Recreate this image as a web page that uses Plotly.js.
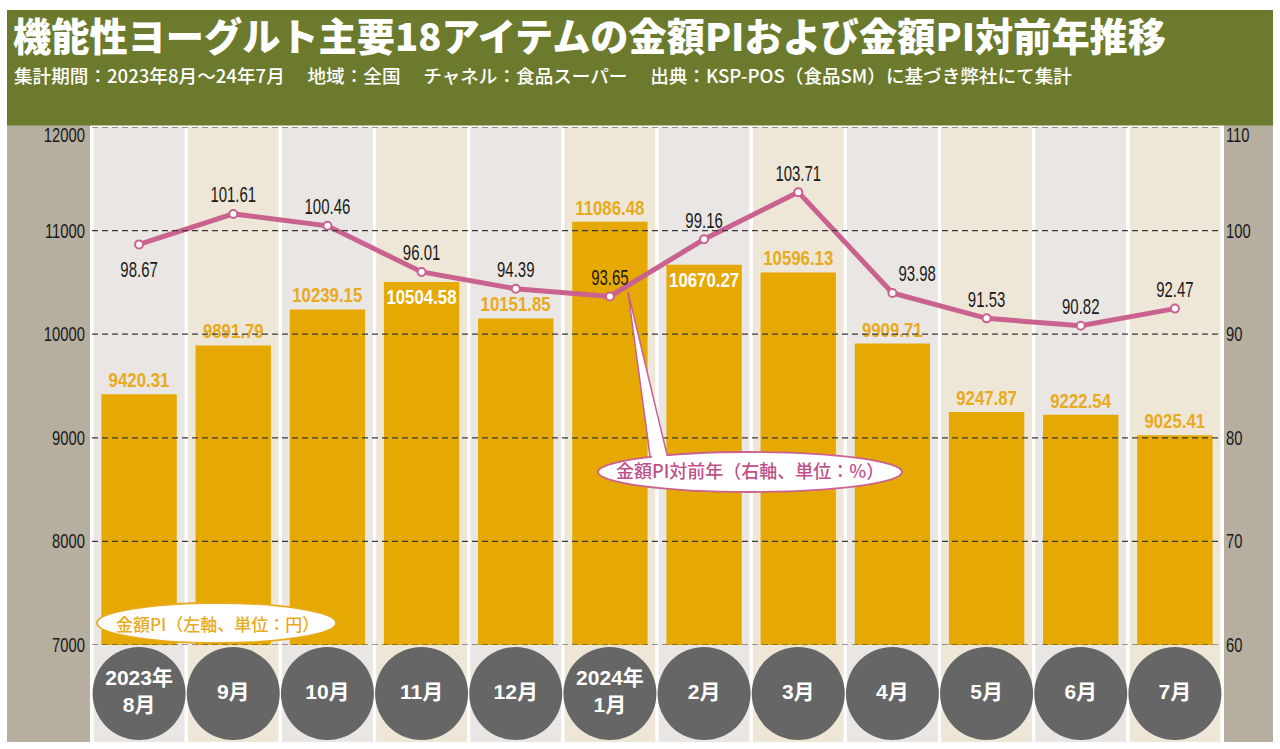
<!DOCTYPE html>
<html>
<head>
<meta charset="utf-8">
<script src="https://cdn.plot.ly/plotly-3.0.1.min.js"></script>
<style>
  html, body { margin: 0; padding: 0; background: #ffffff; }
  #chart { width: 1280px; height: 749px; }
</style>
</head>
<body>
<div id="chart"></div>
<script>
// ---- data ----
const months = ["2023年<br>8月", "9月", "10月", "11月", "12月", "2024年<br>1月", "2月", "3月", "4月", "5月", "6月", "7月"];
const piValues = [9420.31, 9891.79, 10239.15, 10504.58, 10151.85, 11086.48, 10670.27, 10596.13, 9909.71, 9247.87, 9222.54, 9025.41];
const yoyValues = [98.67, 101.61, 100.46, 96.01, 94.39, 93.65, 99.16, 103.71, 93.98, 91.53, 90.82, 92.47];
const leftTicks = [7000, 8000, 9000, 10000, 11000, 12000];
const rightTicks = [60, 70, 80, 90, 100, 110];
const titleText = "機能性ヨーグルト主要18アイテムの金額PIおよび金額PI対前年推移";
const subtitleText = "集計期間：2023年8月～24年7月　 地域：全国　 チャネル：食品スーパー　 出典：KSP-POS（食品SM）に基づき弊社にて集計";
const barLegendText = "金額PI（左軸、単位：円）";
const lineLegendText = "金額PI対前年（右軸、単位：%）";
const insideLabelIdx = [3, 6];
const belowLabelIdx = [0];

// ---- style ----
const OLIVE = "#6c7a2d", TAN = "#b6ae9f", COLGRAY = "#e9e6e3", COLBEIGE = "#eee7d7";
const BAR = "#e6a802", BARLBL = "#e8aa1e", PINK = "#c9628e", CIRCLE = "#666666";
const NUMFONT = "Liberation Sans, Arial, sans-serif";
const JPFONT = "Noto Sans CJK JP, sans-serif";

// pixel -> paper helpers (plot area: x 92..1222, y 127..742)
const L = 92, R = 58, T = 127, B = 7, W = 1280 - L - R, H = 749 - T - B;
const px = v => (v - L) / W;
const py = v => (749 - B - v) / H;
const mainBottom = py(645);

const shapes = [];
shapes.push({type: "rect", xref: "paper", yref: "paper", x0: px(7), x1: px(90), y0: 0, y1: py(125), fillcolor: TAN, line: {width: 0}, layer: "below"});
shapes.push({type: "rect", xref: "paper", yref: "paper", x0: px(1224), x1: px(1273), y0: 0, y1: py(125), fillcolor: TAN, line: {width: 0}, layer: "below"});
shapes.push({type: "rect", xref: "paper", yref: "paper", x0: px(7), x1: px(1273), y0: py(125.5), y1: py(10), fillcolor: OLIVE, line: {width: 0}, layer: "below"});
months.forEach((m, i) => {
  shapes.push({type: "rect", xref: "x", yref: "paper", x0: i - 0.5 + 0.018, x1: i + 0.5 - 0.018, y0: 0, y1: 1,
    fillcolor: i % 2 === 0 ? COLGRAY : COLBEIGE, line: {width: 0}, layer: "below"});
});
leftTicks.forEach(t => {
  shapes.push({type: "line", xref: "paper", yref: "y", x0: 0, x1: 1, y0: t, y1: t,
    line: {color: "#3a3a3a", width: 1.2, dash: "6px,4px"}, layer: "above"});
});
shapes.push({type: "path", xref: "paper", yref: "paper",
  path: `M ${px(628)} ${py(292)} L ${px(651)} ${py(463)} L ${px(669)} ${py(463)} Z`,
  fillcolor: "#ffffff", line: {color: PINK, width: 1.5}, layer: "above"});
shapes.push({type: "circle", xref: "paper", yref: "paper", x0: px(598), x1: px(902), y0: py(492), y1: py(452),
  fillcolor: "#ffffff", line: {color: PINK, width: 1.8}, layer: "above"});
shapes.push({type: "path", xref: "paper", yref: "paper",
  path: `M ${px(651.5)} ${py(453)} L ${px(666)} ${py(453)} L ${px(667.5)} ${py(462)} L ${px(652.5)} ${py(462)} Z`,
  fillcolor: "#ffffff", line: {width: 0}, layer: "above"});
shapes.push({type: "circle", xref: "paper", yref: "paper", x0: px(97), x1: px(336), y0: py(643), y1: py(603),
  fillcolor: "#ffffff", line: {color: BARLBL, width: 1.8}, layer: "above"});

const barTextPos = piValues.map((v, i) => insideLabelIdx.includes(i) ? "inside" : "outside");
const barTextColor = piValues.map((v, i) => insideLabelIdx.includes(i) ? "#ffffff" : BARLBL);
const lineTextPos = yoyValues.map((v, i) => belowLabelIdx.includes(i) ? "bottom center" : (i === 8 ? "top right" : "top center"));

const traces = [
  {
    type: "bar", x: months, y: piValues, xaxis: "x", yaxis: "y",
    marker: {color: BAR}, width: 0.8,
    text: piValues.map(v => v.toFixed(2)), textposition: barTextPos, insidetextanchor: "end",
    textangle: 0, constraintext: "none", cliponaxis: false,
    textfont: {family: NUMFONT, size: 21, weight: "bold", color: barTextColor},
    hoverinfo: "skip", showlegend: false
  },
  {
    type: "scatter", mode: "lines+markers+text", x: months, y: yoyValues, xaxis: "x", yaxis: "y2",
    line: {color: PINK, width: 5},
    marker: {size: 8, color: "#ffffff", line: {color: PINK, width: 2}},
    text: yoyValues.map(v => v.toFixed(2)), textposition: lineTextPos,
    textfont: {family: NUMFONT, size: 22, color: "#1a1a1a"},
    cliponaxis: false, hoverinfo: "skip", showlegend: false
  },
  {
    type: "scatter", mode: "markers+text", x: months, y: months.map(() => 0.5), xaxis: "x", yaxis: "y3",
    marker: {size: 93, color: CIRCLE, line: {width: 0}},
    text: months, textposition: "middle center",
    textfont: {family: "Liberation Sans, Noto Sans CJK JP, sans-serif", size: 21, weight: "bold", color: "#ffffff"},
    cliponaxis: false, hoverinfo: "skip", showlegend: false
  }
];

const layout = {
  width: 1280, height: 749,
  margin: {l: L, r: R, t: T, b: B, pad: 0},
  paper_bgcolor: "#ffffff", plot_bgcolor: "rgba(0,0,0,0)",
  showlegend: false,
  xaxis: {type: "category", range: [-0.5, months.length - 0.5], showticklabels: false, showgrid: false,
    zeroline: false, showline: false, ticks: "", fixedrange: true},
  yaxis: {domain: [mainBottom, 1], range: [leftTicks[0], leftTicks[leftTicks.length - 1]],
    tickmode: "array", tickvals: leftTicks, ticktext: leftTicks.map(String),
    showgrid: false, zeroline: false, showline: false, ticks: "", ticklabelstandoff: 6,
    tickfont: {family: NUMFONT, size: 20, color: "#1a1a1a"}},
  yaxis2: {overlaying: "y", side: "right", range: [rightTicks[0], rightTicks[rightTicks.length - 1]],
    tickmode: "array", tickvals: rightTicks, ticktext: rightTicks.map(String),
    showgrid: false, zeroline: false, showline: false, ticks: "", ticklabelstandoff: 3,
    tickfont: {family: NUMFONT, size: 20, color: "#1a1a1a"}},
  yaxis3: {domain: [0, mainBottom], range: [0, 1], showticklabels: false, showgrid: false,
    zeroline: false, showline: false, ticks: ""},
  shapes: shapes,
  annotations: [
    {xref: "paper", yref: "paper", x: px(11), y: py(34), xanchor: "left", yanchor: "middle", showarrow: false,
      text: titleText, font: {family: JPFONT, size: 38.2, weight: 900, color: "#ffffff"}},
    {xref: "paper", yref: "paper", x: px(12), y: py(74), xanchor: "left", yanchor: "middle", showarrow: false,
      text: subtitleText, font: {family: JPFONT, size: 18.6, weight: 500, color: "#ffffff"}},
    {xref: "paper", yref: "paper", x: px(217), y: py(623), xanchor: "center", yanchor: "middle", showarrow: false,
      text: barLegendText, font: {family: JPFONT, size: 17, weight: 500, color: BARLBL}},
    {xref: "paper", yref: "paper", x: px(750), y: py(470), xanchor: "center", yanchor: "middle", showarrow: false,
      text: lineLegendText, font: {family: JPFONT, size: 18, weight: 500, color: "#c0508a"}}
  ]
};

// condense numeric text horizontally (the reference uses a condensed face)
function condense(el, s, dy) {
  const bb = el.getBBox();
  const anchor = el.getAttribute("text-anchor") || "start";
  const ox = anchor === "end" ? bb.x + bb.width : (anchor === "middle" ? bb.x + bb.width / 2 : bb.x);
  const oy = bb.y + bb.height / 2;
  const t = el.getAttribute("transform") || "";
  el.setAttribute("transform", `${t} translate(${ox},${oy + (dy || 0)}) scale(${s},1) translate(${-ox},${-oy})`);
}

Plotly.newPlot("chart", traces, layout, {displayModeBar: false, staticPlot: true}).then(gd => {
  const topL = String(leftTicks[leftTicks.length - 1]), topR = String(rightTicks[rightTicks.length - 1]);
  gd.querySelectorAll(".ytick text, .y2tick text").forEach(el => {
    const txt = el.textContent;
    condense(el, 0.74, (txt === topL || txt === topR) ? 8 : 0);
  });
  gd.querySelectorAll(".bars text").forEach(el => condense(el, 0.8));
  const belowTexts = belowLabelIdx.map(i => yoyValues[i].toFixed(2));
  gd.querySelectorAll(".textpoint text").forEach(el => {
    const txt = el.textContent;
    if (txt.indexOf("月") === -1) condense(el, 0.68, belowTexts.includes(txt) ? 10 : 0);
  });
});
</script>
</body>
</html>
